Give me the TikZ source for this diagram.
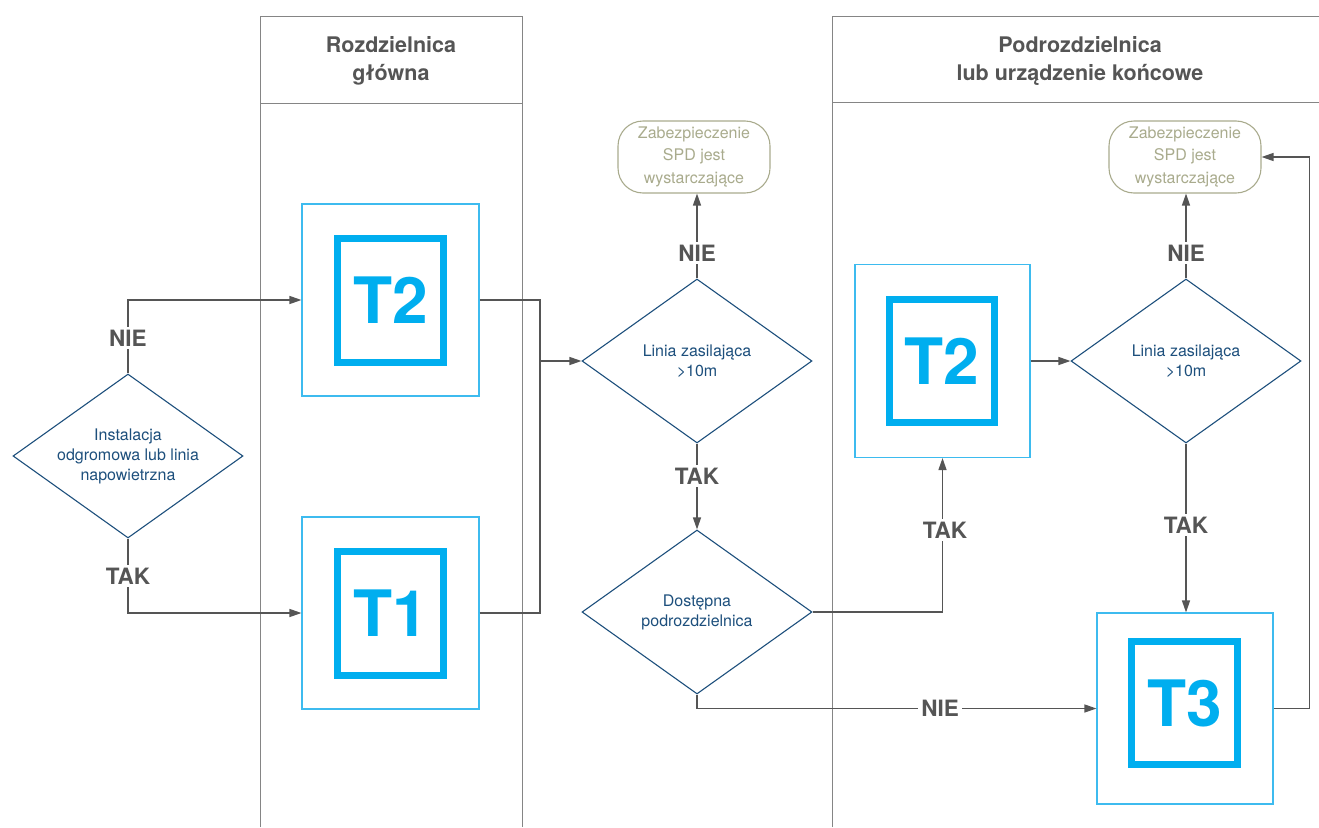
\documentclass[tikz,border=0pt]{standalone}
\usepackage{fontspec}
\setmainfont{TeX Gyre Heros}
\usetikzlibrary{shapes.geometric,arrows.meta}
\definecolor{lanegray}{HTML}{858585}
\definecolor{conngray}{HTML}{555555}
\definecolor{lblgray}{HTML}{555555}
\definecolor{dblue}{HTML}{1D4F7C}
\definecolor{tcyan}{HTML}{00AEEF}
\definecolor{ocyan}{HTML}{3DBBEF}
\definecolor{olive}{HTML}{A9AB8D}
\begin{document}
\begin{tikzpicture}[x=1pt,y=-1pt,
 lanel/.style={draw=lanegray,line width=1pt},
 hdr/.style={font=\fontsize{21.5}{28}\selectfont\bfseries,text=lblgray,align=center},
 dec/.style={diamond,draw=dblue,line width=1.1pt,minimum width=230pt,minimum height=164pt,inner sep=0pt,aspect=1.4,align=center,text=dblue,font=\fontsize{16}{20}\selectfont},
 outerbox/.style={draw=ocyan,line width=1.1pt,minimum width=177pt,minimum height=192pt,inner sep=0pt},
 innerbox/.style={draw=tcyan,line width=7pt,minimum width=106pt,minimum height=124pt,inner sep=0pt,text=tcyan,font=\fontsize{64}{64}\selectfont\bfseries},
 endbox/.style={draw=olive,line width=1.1pt,rounded corners=25pt,minimum width=152pt,minimum height=72pt,inner sep=0pt,align=center,text=olive,font=\fontsize{16}{22.5}\selectfont},
 connl/.style={draw=conngray,line width=1.3pt},
 arr/.style={connl,-{Triangle[length=12pt,width=8pt]}},
 yn/.style={fill=white,inner sep=3pt,text=lblgray,font=\fontsize{22.5}{22.5}\selectfont\bfseries},
]
\useasboundingbox (0,0) rectangle (1319,827);
% lanes
\draw[lanel] (260,827) -- (260,16) -- (522,16) -- (522,827);
\draw[lanel] (260,103) -- (522,103);
\draw[lanel] (832,827) -- (832,16) -- (1319,16);
\draw[lanel] (832,102) -- (1319,102);
\node[hdr] (h1) at (391,61) {Rozdzielnica\\główna};
\node[hdr] (h2) at (1080,61) {Podrozdzielnica\\lub urządzenie końcowe};

% decisions
\node[dec] (d0) at (128,456) {Instalacja\\odgromowa lub linia\\napowietrzna};
\node[dec] (d1) at (697,361) {Linia zasilająca\\>10m};
\node[dec] (d2) at (697,612) {Dostępna\\podrozdzielnica};
\node[dec] (d3) at (1186,361) {Linia zasilająca\\>10m};

% SPD boxes
\node[outerbox] (t2a) at (390.5,300) {};
\node[innerbox] (t2ai) at (390.5,300) {T2};
\node[outerbox] (t1a) at (390.5,613) {};
\node[innerbox] (t1ai) at (390.5,613) {T1};
\node[outerbox,minimum width=175pt,minimum height=193pt] (t2b) at (942.5,361) {};
\node[innerbox,minimum width=105pt,minimum height=123pt] (t2bi) at (942,361) {T2};
\node[outerbox,minimum width=176pt,minimum height=191pt] (t3) at (1185,708.5) {};
\node[innerbox,minimum width=106pt,minimum height=123pt] (t3i) at (1184.5,703) {T3};

% end boxes
\node[endbox] (r1) at (694,157) {Zabezpieczenie\\SPD jest\\wystarczające};
\node[endbox] (r2) at (1185,157) {Zabezpieczenie\\SPD jest\\wystarczające};

% connectors
\draw[arr] (d0.north) |- (t2a.west);
\draw[arr] (d0.south) |- (t1a.west);
\coordinate (j) at (540,361);
\draw[connl] (t2a.east) -| (j);
\draw[connl] (t1a.east) -| (j);
\draw[arr] (j) -- (d1.west);
\draw[arr] (d1.north) -- (d1.north |- r1.south);
\draw[arr] (d1.south) -- (d2.north);
\draw[arr] (d2.east) -| (t2b.south);
\draw[arr] (d2.south) |- (t3.west);
\draw[arr] (t2b.east) -- (d3.west);
\draw[arr] (d3.north) -- (d3.north |- r2.south);
\draw[arr] (d3.south) -- (d3.south |- t3.north);
\draw[arr] (t3.east) -- ++(36,0) |- (r2.east);

% labels
\node[yn] (l1) at (128,338) {NIE};
\node[yn] (l2) at (128,576) {TAK};
\node[yn] (l3) at (697,253) {NIE};
\node[yn] (l4) at (697,476) {TAK};
\node[yn] (l5) at (945,530) {TAK};
\node[yn] (l6) at (940,708) {NIE};
\node[yn] (l7) at (1186,253) {NIE};
\node[yn] (l8) at (1186,525) {TAK};
\end{tikzpicture}
\end{document}
